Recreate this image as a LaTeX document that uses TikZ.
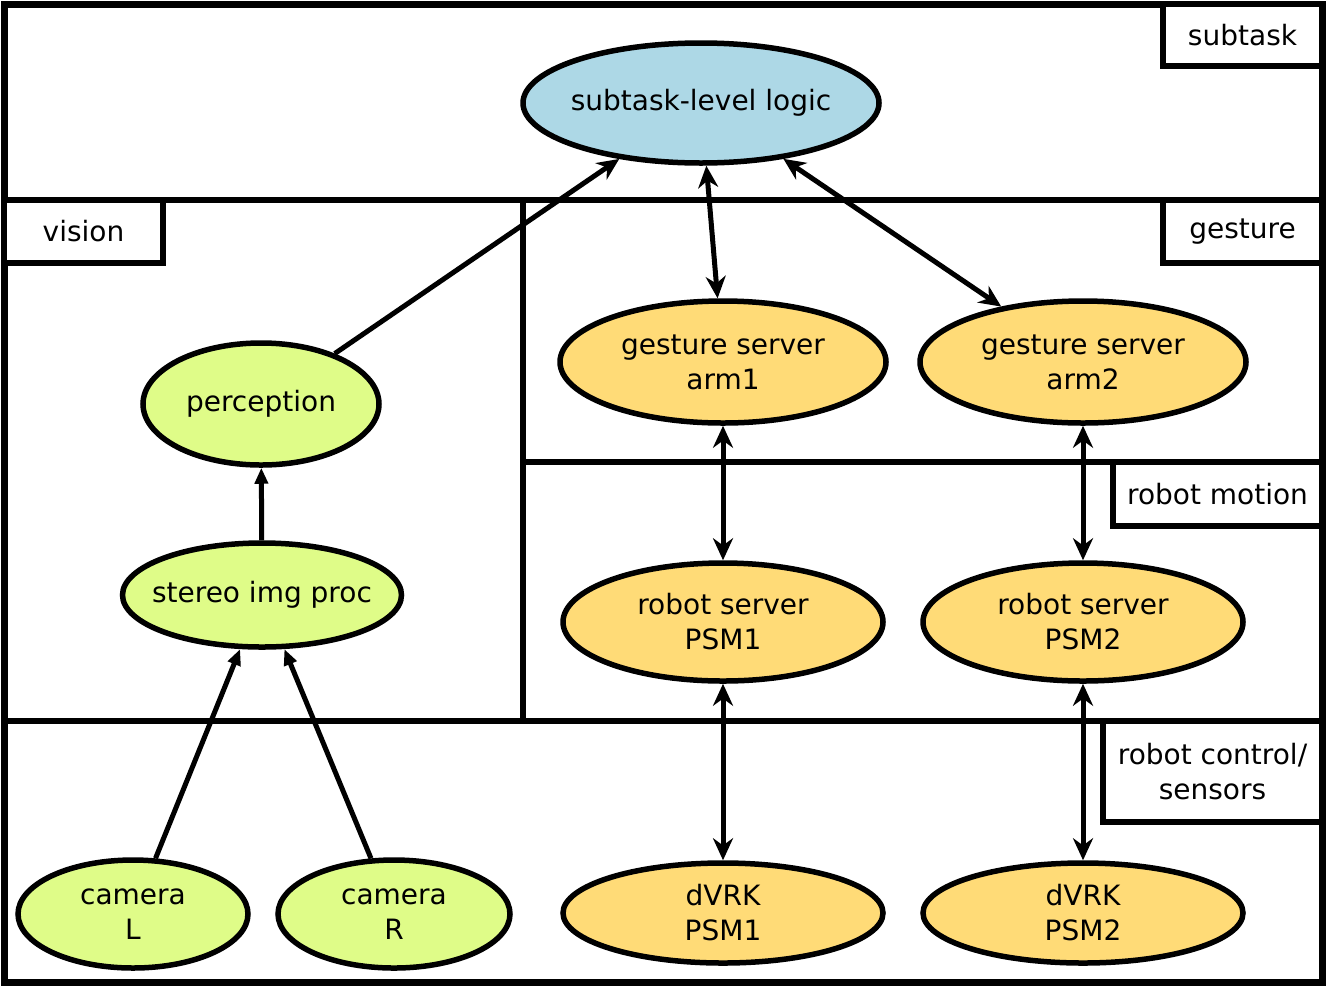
\documentclass[tikz,border=0pt]{standalone}
\usepackage{fontspec}
\setmainfont{DejaVu Sans}
\usetikzlibrary{arrows.meta,shapes.geometric}
\definecolor{logicblue}{HTML}{ADD8E6}
\definecolor{visiongreen}{HTML}{DFFC88}
\definecolor{robotyellow}{HTML}{FFDB77}

\begin{document}
\begin{tikzpicture}[
    x=0.5pt, y=-0.5pt,
    every node/.style={font=\fontsize{14pt}{17.5pt}\selectfont, align=center},
    proc/.style={ellipse, draw=black, line width=2.75pt, inner xsep=-10pt, inner ysep=0pt},
    layer/.style={draw=black, line width=2.75pt, fill=white, anchor=north east,
        inner sep=0pt, outer sep=0pt},
    region/.style={line width=2.75pt},
    edge/.style={line width=2.5pt, -{Stealth[length=11pt,width=10pt]}},
    biedge/.style={line width=2.5pt, {Stealth[length=11pt,width=10pt]}-{Stealth[length=11pt,width=10pt]}},
    feed/.style={line width=2.5pt, -{Triangle[length=8pt,width=6.5pt]}}
]
    \useasboundingbox (0,0) rectangle (1326,986);
    % layers
    \draw[region] (4,200) -- (1322,200);
    \draw[region] (4,721) -- (1322,721);
    \draw[region] (523,200) -- (523,721);
    \draw[region] (523,462) -- (1322,462);
    \draw[line width=3.5pt] (4,4) rectangle (1322,982);
    \node[layer, minimum width=79.5pt, minimum height=31pt] (lsub) at (1322,4) {subtask};
    \node[layer, minimum width=79.5pt, minimum height=31.5pt, anchor=north west] (lvis) at (4,200) {vision};
    \node[layer, minimum width=79.5pt, minimum height=31.5pt] (lges) at (1322,200) {gesture};
    \node[layer, minimum width=104.5pt, minimum height=32pt] (lmot) at (1322,462) {robot motion};
    \node[layer, minimum width=109.5pt, minimum height=50.5pt] (lctl) at (1322,721) {robot control/\\sensors};
    % processes
    \node[proc, fill=logicblue, minimum width=178pt, minimum height=60pt] (logic) at (701,103) {subtask-level logic};
    \node[proc, fill=robotyellow, minimum width=163pt, minimum height=61pt] (ges1) at (723,362) {gesture server\\arm1};
    \node[proc, fill=robotyellow, minimum width=163pt, minimum height=61pt] (ges2) at (1083,362) {gesture server\\arm2};
    \node[proc, fill=visiongreen, minimum width=118pt, minimum height=61pt] (perc) at (261,404) {perception};
    \node[proc, fill=visiongreen, minimum width=139.5pt, minimum height=52pt] (stereo) at (262,595) {stereo img proc};
    \node[proc, fill=robotyellow, minimum width=160pt, minimum height=59pt] (rob1) at (723,622) {robot server\\PSM1};
    \node[proc, fill=robotyellow, minimum width=160pt, minimum height=59pt] (rob2) at (1083,622) {robot server\\PSM2};
    \node[proc, fill=visiongreen, minimum width=115pt, minimum height=54pt] (camL) at (133,914) {camera\\L};
    \node[proc, fill=visiongreen, minimum width=116pt, minimum height=54pt] (camR) at (394,914) {camera\\R};
    \node[proc, fill=robotyellow, minimum width=160pt, minimum height=50pt] (dvrk1) at (723,913) {dVRK\\PSM1};
    \node[proc, fill=robotyellow, minimum width=160pt, minimum height=50pt] (dvrk2) at (1083,913) {dVRK\\PSM2};
    % connections
    \draw[edge] (perc) -- (logic);
    \draw[biedge] (logic) -- (ges1);
    \draw[biedge] (logic) -- (ges2);
    \draw[biedge] (ges1) -- (rob1);
    \draw[biedge] (ges2) -- (rob2);
    \draw[biedge] (rob1) -- (dvrk1);
    \draw[biedge] (rob2) -- (dvrk2);
    \draw[feed] (stereo) -- (perc);
    \draw[feed] (camL) -- (stereo);
    \draw[feed] (camR) -- (stereo);
\end{tikzpicture}
\end{document}
